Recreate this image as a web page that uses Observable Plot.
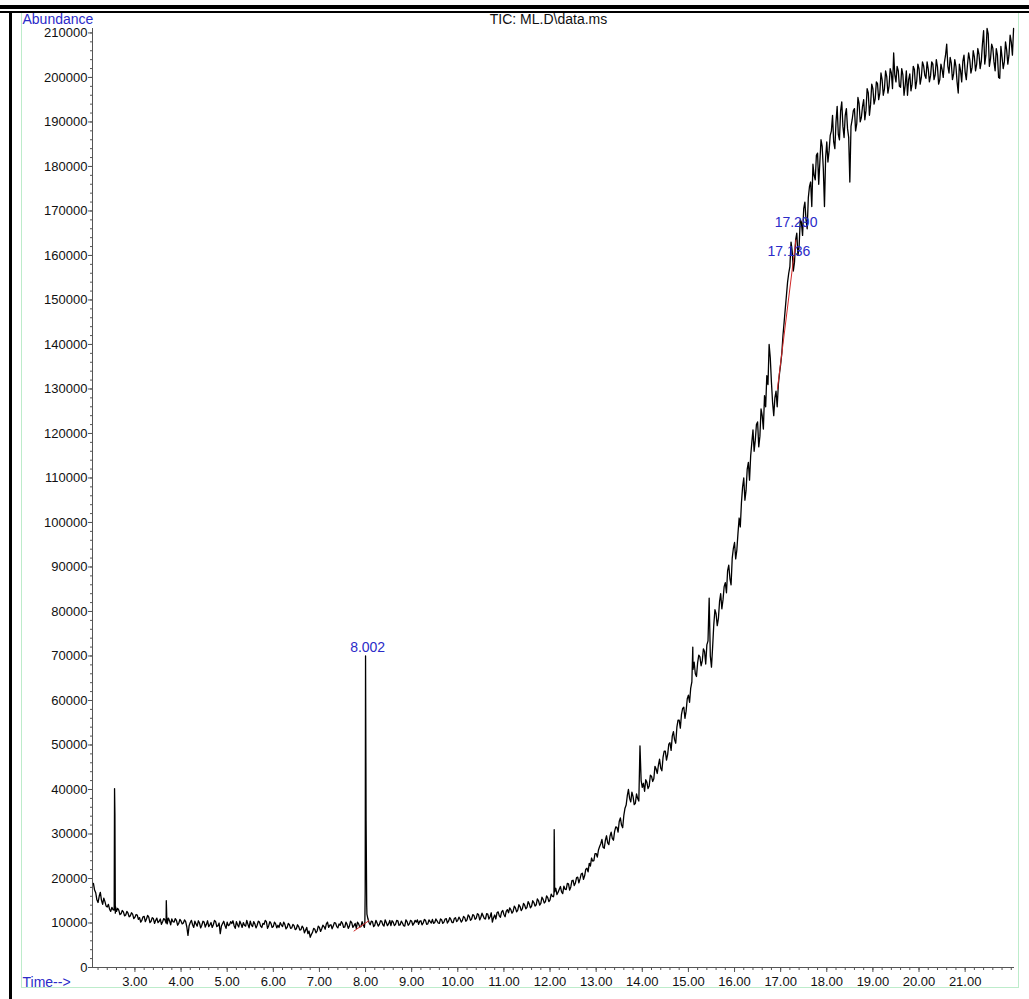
<!DOCTYPE html>
<html>
<head>
<meta charset="utf-8">
<script src="https://cdn.jsdelivr.net/npm/d3@7"></script>
<script src="https://cdn.jsdelivr.net/npm/@observablehq/plot@0.6"></script>
<style>
  html, body { margin: 0; padding: 0; background: #fff; }
  #wrap { position: relative; width: 1029px; height: 999px; overflow: hidden; background: #fff; }
  #wrap svg { position: absolute; left: 0; top: 0; }
  .bar { position: absolute; background: #000; }
  .green { position: absolute; border: 1px solid #bdeccb; border-top: none; box-sizing: border-box; }
</style>
</head>
<body>
<div id="wrap"></div>
<script>
// ---------------- data (abundance in thousands) ----------------
// scans on the 0.05-min grid, from 2.10 min
const scanStart = 2.10;
const scanStep = 0.05;
const abundanceK = [
  // 2.10 – 3.05
  18.9, 16.8, 14.6, 16.9, 14.2, 14.8, 13.6, 13.1, 13.5, 12.9, 12.6, 12.9, 12.1, 12.5, 11.8, 12.2, 11.6, 12.0, 11.3, 11.8,
  // 3.10 – 4.05
  11.2, 10.6, 11.5, 10.9, 11.3, 10.4, 11.0, 10.6, 10.1, 10.9, 10.3, 10.7, 9.8, 10.5, 10.9, 10.2, 10.6, 9.9, 10.4, 10.0,
  // 4.10 – 5.05
  10.3, 7.2, 10.1, 9.6, 10.4, 9.3, 10.0, 9.5, 10.2, 9.7, 9.2, 10.1, 9.6, 10.3, 9.4, 7.6, 9.9, 9.5, 10.2, 9.6,
  // 5.10 – 6.05
  9.9, 9.4, 10.3, 9.1, 9.8, 10.1, 9.3, 9.7, 10.4, 9.2, 9.8, 9.5, 10.2, 9.0, 9.7, 10.3, 9.4, 9.9, 9.2, 9.8,
  // 6.10 – 7.05
  9.5, 10.1, 9.2, 9.7, 9.0, 9.6, 8.9, 9.4, 8.7, 9.2, 8.5, 8.9, 8.4, 7.6, 6.8, 7.9, 8.6, 8.2, 9.0, 8.7,
  // 7.10 – 8.05
  9.2, 9.8, 9.0, 9.6, 9.3, 10.0, 8.9, 9.5, 9.9, 9.1, 9.7, 9.3, 10.1, 9.4, 8.8, 9.8, 9.2, 9.6, 70.0, 11.0,
  // 8.10 – 9.05
  9.6, 10.3, 9.5, 10.0, 9.7, 10.4, 9.3, 10.1, 9.8, 9.4, 10.2, 9.7, 10.5, 9.6, 10.0, 9.3, 10.3, 9.8, 10.4, 9.9,
  // 9.10 – 10.05
  10.2, 9.7, 10.5, 10.0, 10.6, 9.8, 10.3, 10.8, 10.1, 10.5, 9.9, 10.7, 10.2, 11.0, 10.4, 10.8, 10.1, 11.2, 10.6, 10.9,
  // 10.10 – 11.05
  10.6, 11.2, 10.7, 11.5, 10.9, 11.7, 11.1, 11.9, 11.3, 11.6, 10.9, 12.0, 11.4, 10.2, 11.8, 12.3, 11.6, 12.5, 11.9, 12.6,
  // 11.10 – 12.05
  12.3, 13.0, 12.6, 13.4, 12.9, 13.7, 13.2, 14.0, 13.5, 14.3, 13.8, 14.6, 14.1, 15.0, 14.4, 15.3, 14.8, 15.7, 15.2, 16.0,
  // 12.10 – 13.05
  17.0, 16.4, 17.6, 17.0, 18.3, 17.5, 18.8, 18.1, 19.6, 19.0, 20.3, 19.9, 21.2, 20.6, 22.3, 23.4, 24.6, 24.0, 25.6, 26.4,
  // 13.10 – 14.05
  27.8, 27.0, 28.6, 28.0, 29.5, 29.0, 30.6, 31.5, 32.8, 32.0, 34.2, 36.5, 40.0, 37.2, 38.4, 36.9, 38.0, 49.8, 40.5, 39.6,
  // 14.10 – 15.05
  41.6, 40.8, 43.0, 42.4, 44.6, 45.5, 44.8, 47.2, 48.6, 47.9, 50.5, 52.0, 51.2, 54.0, 55.6, 56.9, 58.5, 57.6, 61.2, 62.8,
  // 15.10 – 16.05
  67.0, 66.0, 68.5, 69.8, 68.9, 71.0, 72.5, 83.0, 67.5, 77.0, 79.5, 78.4, 84.0, 82.6, 86.5, 89.2, 87.4, 92.0, 95.5, 93.8,
  // 16.10 – 17.05
  101.0, 104.5, 110.0, 107.2, 113.5, 115.0, 120.8, 118.5, 122.6, 119.4, 124.0, 128.5, 133.0, 140.0, 131.5, 124.0, 129.5, 131.0, 135.6, 142.0,
  // 17.10 – 18.05
  148.0, 154.0, 157.5, 161.0, 158.5, 165.0, 162.0, 167.5, 170.5, 168.0, 173.0, 176.5, 180.5, 177.0, 183.0, 181.0, 184.5, 171.0, 185.5, 183.5,
  // 18.10 – 19.05
  188.0, 185.5, 190.0, 187.2, 192.5, 189.0, 191.5, 188.5, 176.5, 190.5, 193.0, 189.6, 194.2, 191.0, 195.0, 192.6, 196.5, 194.0, 197.5, 195.2,
  // 19.10 – 20.05
  198.6, 196.5, 199.5, 197.4, 200.2, 198.0, 201.0, 205.5, 199.0, 201.5, 197.8, 200.6, 198.2, 196.0, 200.8, 198.5, 201.8, 199.2, 202.0, 200.0,
  // 20.10 – 21.05
  202.6, 199.8, 201.9, 200.4, 203.0, 200.6, 202.4, 199.5, 201.8, 203.4, 207.5, 201.0, 203.2, 200.8, 202.5, 196.5, 201.6, 203.6, 201.2, 202.8,
  // 21.10 – 22.05
  204.0, 202.2, 204.6, 203.0, 205.2, 203.6, 210.5, 205.0, 209.8, 204.2, 206.6, 201.5, 205.0, 199.8, 204.6, 203.5, 206.2, 205.0, 208.0, 211.0
];

// intermediate scans, from 2.125 min on the same 0.05-min step
const midStart = 2.125;
const midK = [
  // 2.125 – 3.075
  17.4, 15.2, 16.0, 15.1, 15.6, 13.8, 14.2, 12.6, 13.0, 12.2, 13.3, 11.9, 12.8, 11.6, 12.6, 11.4, 12.3, 11.0, 11.9, 10.8,
  // 3.125 – 4.075
  10.2, 11.4, 10.3, 11.7, 10.1, 11.2, 9.9, 11.1, 10.4, 9.7, 11.0, 10.0, 11.1, 9.6, 10.3, 11.0, 9.5, 10.8, 9.8, 10.7,
  // 4.125 – 5.075
  9.1, 9.4, 10.6, 9.0, 9.8, 10.5, 8.9, 10.4, 9.1, 10.5, 9.6, 9.0, 10.6, 9.2, 10.0, 9.3, 10.4, 8.8, 9.4, 10.3,
  // 5.125 – 6.075
  10.5, 8.8, 9.6, 10.4, 9.0, 9.5, 10.6, 8.9, 9.6, 10.3, 8.9, 10.4, 9.3, 9.9, 10.6, 8.8, 10.3, 9.0, 10.2, 8.9,
  // 6.125 – 7.075
  9.0, 9.6, 10.2, 8.7, 9.9, 8.8, 9.7, 8.5, 9.6, 8.4, 9.3, 7.8, 9.0, 8.2, 7.4, 8.8, 7.8, 9.3, 8.1, 9.5,
  // 7.125 – 8.075
  8.6, 10.2, 9.5, 8.7, 10.1, 9.2, 9.8, 10.3, 9.0, 10.2, 8.8, 10.4, 9.0, 9.9, 10.2, 9.1, 10.3, 9.0, 14.0, 10.1,
  // 8.125 – 9.075
  10.4, 9.2, 10.6, 9.3, 10.5, 9.6, 10.7, 9.4, 10.6, 10.5, 9.4, 10.6, 9.5, 10.4, 9.4, 10.7, 9.5, 10.6, 9.5, 10.6,
  // 9.125 – 10.075
  10.7, 10.4, 9.6, 10.8, 9.7, 10.7, 10.0, 9.9, 10.9, 10.0, 10.9, 9.9, 10.9, 10.0, 11.2, 10.1, 11.0, 10.3, 11.3, 10.2,
  // 10.125 – 11.075
  11.5, 10.4, 11.8, 10.6, 11.9, 10.8, 12.1, 10.7, 12.2, 11.0, 12.1, 10.9, 12.3, 11.2, 10.9, 12.5, 11.3, 12.8, 11.4, 13.0,
  // 11.125 – 12.075
  13.4, 12.2, 13.8, 12.5, 14.1, 12.8, 14.4, 13.2, 14.8, 13.4, 15.0, 13.8, 15.4, 14.0, 15.8, 14.5, 16.1, 14.8, 16.5, 15.9,
  // 12.125 – 13.075
  17.8, 16.9, 18.2, 16.6, 17.6, 18.9, 17.4, 19.5, 18.4, 20.2, 19.0, 21.0, 19.8, 22.1, 21.5, 22.8, 23.9, 25.6, 24.8, 27.2,
  // 13.125 – 14.075
  28.8, 26.8, 29.6, 27.6, 30.4, 28.6, 31.6, 30.4, 33.6, 31.4, 35.8, 38.6, 38.0, 39.4, 36.6, 39.0, 37.4, 42.0, 41.4, 42.2,
  // 14.125 – 15.075
  40.2, 43.2, 41.8, 45.2, 43.6, 46.8, 44.2, 48.6, 46.6, 50.2, 48.8, 53.0, 50.4, 55.6, 53.8, 58.2, 56.0, 60.4, 59.6, 64.2,
  // 15.125 – 16.075
  68.6, 65.4, 70.2, 67.8, 71.6, 68.2, 73.4, 70.0, 72.0, 80.4, 76.8, 82.2, 80.6, 85.6, 84.2, 90.4, 86.0, 94.2, 91.8, 97.6,
  // 16.125 – 17.075
  99.0, 108.0, 105.0, 112.0, 109.5, 118.0, 116.0, 122.0, 117.0, 125.5, 121.0, 126.0, 131.0, 137.0, 127.0, 128.0, 126.0, 133.5, 138.0, 145.0,
  // 17.125 – 18.075
  151.0, 156.0, 163.0, 156.5, 163.5, 160.0, 168.0, 164.5, 172.0, 166.0, 175.5, 171.0, 178.0, 182.5, 176.0, 186.0, 179.5, 182.0, 181.0, 187.0,
  // 18.125 – 19.075
  191.5, 184.0, 193.5, 186.0, 194.5, 186.5, 193.0, 186.5, 189.0, 192.5, 188.0, 195.5, 190.0, 193.5, 190.5, 197.5, 191.5, 198.5, 194.0, 199.0,
  // 19.125 – 20.075
  195.0, 201.0, 196.0, 201.5, 196.5, 202.0, 197.5, 200.5, 202.5, 198.0, 202.0, 196.0, 201.5, 199.5, 197.0, 202.5, 197.5, 203.0, 198.5, 203.5,
  // 20.125 – 21.075
  200.5, 203.5, 199.0, 203.5, 199.5, 204.0, 198.5, 203.0, 200.0, 205.0, 202.5, 204.5, 199.5, 204.0, 199.0, 203.0, 199.0, 205.0, 199.5, 205.5,
  // 21.125 – 22.025
  201.0, 206.0, 201.5, 206.5, 202.0, 207.5, 203.0, 211.0, 202.5, 207.5, 203.5, 206.5, 200.0, 207.0, 202.0, 208.0, 203.0, 209.5, 205.0
];

// narrow spikes between scans (time in min, abundance in thousands)
const spikeTimes = [2.552, 2.558, 2.566, 2.58, 3.68, 3.69, 7.985, 7.992, 8.012, 8.03, 12.085, 12.09, 12.095, 15.095];
const spikeK     = [20.0,  40.2,  34.5,  13.6, 15.0, 11.5, 10.2,  17.0,  33.0,  12.0, 16.5,   31.0,  26.5,   72.0];

// integration baselines (red)
const baseA_t = [7.75, 8.07];
const baseA_v = [8200, 10500];
const baseB_t = [16.93, 17.33];
const baseB_v = [130000, 163500];

// peak labels
const peakTimes  = [8.002, 17.136, 17.290];
const peakTops   = [70000, 159000, 165500];
const peakLabels = ["8.002", "17.136", "17.290"];

// axes
const xDomain = [2.08, 22.07];
const yDomain = [0, 211000];
const xMajor = d3.range(3, 21.5, 1);
const xMinor = d3.range(2.2, 22.05, 0.2);
const yMajor = d3.range(0, 210001, 10000);
const yMinor = d3.range(0, 210001, 2000);

const titleText = "TIC: ML.D\\data.ms";
const yLabel = "Abundance";
const xLabel = "Time-->";

// ---------------- build ----------------
const scans = abundanceK.map((k, i) => ({t: +(scanStart + i * scanStep).toFixed(3), v: k * 1000}));
const mids = midK.map((k, i) => ({t: +(midStart + i * scanStep).toFixed(3), v: k * 1000}));
const spikes = spikeTimes.map((t, i) => ({t, v: spikeK[i] * 1000}));
const trace = scans.concat(mids, spikes).sort((a, b) => a.t - b.t);
const baseA = baseA_t.map((t, i) => ({t, v: baseA_v[i]}));
const baseB = baseB_t.map((t, i) => ({t, v: baseB_v[i]}));
const peaks = peakTimes.map((t, i) => ({t, v: peakTops[i], label: peakLabels[i]}));

const blue = "#2b2bc8";
const axisCol = "#555";

const chart = Plot.plot({
  width: 1029,
  height: 999,
  marginLeft: 92,
  marginRight: 15,
  marginTop: 28,
  marginBottom: 32,
  x: {domain: xDomain},
  y: {domain: yDomain},
  style: {fontFamily: "'Liberation Sans', Arial, sans-serif", fontSize: "13px", background: "transparent", overflow: "visible"},
  marks: [
    Plot.axisY(yMinor, {tickSize: 2, tickFormat: () => "", stroke: axisCol, label: null}),
    Plot.axisY(yMajor, {tickSize: 4, tickPadding: 1, tickFormat: d => String(d), stroke: axisCol, fill: "#111", fontSize: 13, label: null}),
    Plot.axisX(xMinor, {tickSize: 3, tickFormat: () => "", stroke: axisCol, label: null}),
    Plot.axisX(xMajor, {tickSize: 5, tickPadding: 4, tickFormat: d => d.toFixed(2), stroke: axisCol, fill: "#111", fontSize: 13, label: null}),
    Plot.ruleY([yDomain[0]], {stroke: axisCol, strokeWidth: 1}),
    Plot.ruleX([xDomain[0]], {stroke: axisCol, strokeWidth: 1}),
    Plot.line(trace, {x: "t", y: "v", stroke: "#000", strokeWidth: 1.3}),
    Plot.line(baseA, {x: "t", y: "v", stroke: "#d02828", strokeWidth: 1}),
    Plot.line(baseB, {x: "t", y: "v", stroke: "#d02828", strokeWidth: 1}),
    Plot.text(peaks, {x: "t", y: "v", text: "label", fill: blue, fontSize: 14, dx: 2, dy: -8}),
    Plot.text([titleText], {text: d => d, frameAnchor: "top", lineAnchor: "middle", dx: -5, dy: -9, fontSize: 14, fill: "#111"}),
    Plot.text([yLabel], {text: d => d, frameAnchor: "top-left", lineAnchor: "middle", textAnchor: "start", dx: -70, dy: -9, fontSize: 14, fill: blue}),
    Plot.text([xLabel], {text: d => d, frameAnchor: "bottom-left", lineAnchor: "middle", textAnchor: "start", dx: -70, dy: 15, fontSize: 14, fill: blue})
  ]
});

const wrap = document.getElementById("wrap");
wrap.appendChild(chart);

function addBox(cls, l, t, w, h) {
  const d = document.createElement("div");
  d.className = cls;
  d.style.left = l + "px"; d.style.top = t + "px";
  d.style.width = w + "px"; d.style.height = h + "px";
  wrap.appendChild(d);
}
addBox("green", 21, 12, 998, 976);
addBox("bar", 0, 5, 1029, 4);
addBox("bar", 0, 11, 1029, 2);
addBox("bar", 9, 11, 3, 988);
</script>
</body>
</html>
